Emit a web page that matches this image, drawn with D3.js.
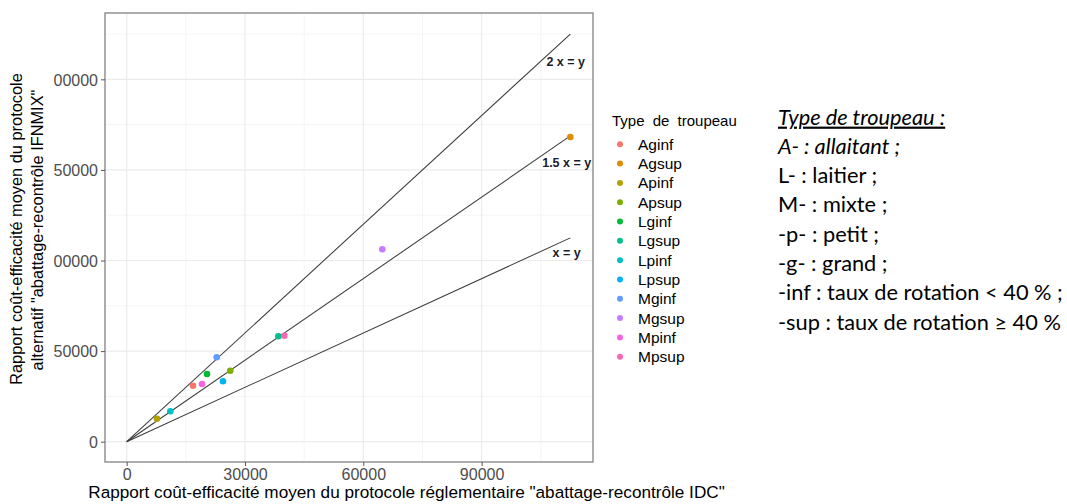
<!DOCTYPE html>
<html><head><meta charset="utf-8">
<script src="https://cdn.jsdelivr.net/npm/d3@7"></script>
<style>body{margin:0;background:#fff}svg{display:block}</style>
</head><body>
<svg id="c" width="1067" height="504"></svg>
<script>
const types = ["Aginf","Agsup","Apinf","Apsup","Lginf","Lgsup","Lpinf","Lpsup","Mginf","Mgsup","Mpinf","Mpsup"];
const idcCost = [16810,112500,7680,26270,20360,38450,11060,24420,22820,64820,19100,39970];
const ifnmixCost = [30900,168150,12690,39180,37360,58170,16780,33330,46580,106180,31840,58500];
const typeColors = ["#F8766D","#DE8C00","#B79F00","#7CAE00","#00BA38","#00C08B","#00BFC4","#00B4F0","#619CFF","#C77CFF","#F564E3","#FF64B0"];
const ratios = [1, 1.5, 2];
const ratioLabels = ["x = y", "1.5 x = y", "2 x = y"];
const xTicks = [0, 30000, 60000, 90000];
const yTicks = [0, 50000, 100000, 150000, 200000];
const xMinor = [15000, 45000, 75000, 105000];
const yMinor = [25000, 75000, 125000, 175000, 225000];
const notes = [
  {t:"Type de troupeau :", it:true, u:true},
  {t:"A- : allaitant ;", it:true},
  {t:"L- : laitier ;"},
  {t:"M- : mixte ;"},
  {t:"-p- : petit ;"},
  {t:"-g- : grand ;"},
  {t:"-inf : taux de rotation < 40 % ;"},
  {t:"-sup : taux de rotation \u2265 40 %"}
];

const svg = d3.select("#c");
const P = {l:105, r:593, t:13, b:462};
const x = d3.scaleLinear().domain([-5500, 118250]).range([P.l, P.r]);
const y = d3.scaleLinear().domain([-11200, 236600]).range([P.b, P.t]);
const font = "'Liberation Sans', Arial, sans-serif";

svg.append("rect").attr("width",1067).attr("height",504).attr("fill","#fff");

// grid
const g = svg.append("g");
g.selectAll(".xm").data(xMinor).join("line").attr("x1",d=>x(d)).attr("x2",d=>x(d)).attr("y1",P.t).attr("y2",P.b).attr("stroke","#F2F2F2").attr("stroke-width",0.8);
g.selectAll(".ym").data(yMinor).join("line").attr("y1",d=>y(d)).attr("y2",d=>y(d)).attr("x1",P.l).attr("x2",P.r).attr("stroke","#F2F2F2").attr("stroke-width",0.8);
g.selectAll(".xM").data(xTicks).join("line").attr("x1",d=>x(d)).attr("x2",d=>x(d)).attr("y1",P.t).attr("y2",P.b).attr("stroke","#EBEBEB").attr("stroke-width",1.2);
g.selectAll(".yM").data(yTicks).join("line").attr("y1",d=>y(d)).attr("y2",d=>y(d)).attr("x1",P.l).attr("x2",P.r).attr("stroke","#EBEBEB").attr("stroke-width",1.2);

// ratio lines
const xEnd = d3.max(idcCost);
const line = d3.line().x(d=>x(d[0])).y(d=>y(d[1]));
svg.selectAll(".rl").data(ratios).join("path")
  .attr("d", r => line([[0,0],[xEnd, r*xEnd]]))
  .attr("fill","none").attr("stroke","#3a3a3a").attr("stroke-width",1.05);

// ratio labels
const labelPos = [[566.7,252],[566.7,162.3],[565.7,61.7]];
svg.selectAll(".rlab").data(ratioLabels).join("text")
  .attr("x",(d,i)=>labelPos[i][0]).attr("y",(d,i)=>labelPos[i][1]+4.5)
  .attr("text-anchor","middle").attr("font-family",font).attr("font-weight","bold")
  .attr("font-size",12.5).attr("fill","#1b1b2a").text(d=>d);

// points
svg.selectAll(".pt").data(types).join("circle")
  .attr("cx",(d,i)=>x(idcCost[i])).attr("cy",(d,i)=>y(ifnmixCost[i]))
  .attr("r",3.3).attr("fill",(d,i)=>typeColors[i]);

// panel border
svg.append("rect").attr("x",P.l).attr("y",P.t).attr("width",P.r-P.l).attr("height",P.b-P.t)
  .attr("fill","none").attr("stroke","#8a8a8a").attr("stroke-width",1.4);

// axes
const xa = svg.append("g").attr("transform",`translate(0,${P.b})`)
  .call(d3.axisBottom(x).tickValues(xTicks).tickFormat(d3.format("d")).tickSize(4).tickPadding(3));
svg.append("clipPath").attr("id","yl").append("rect").attr("x",53.6-P.l).attr("y",0).attr("width",60).attr("height",504);
const ya = svg.append("g").attr("transform",`translate(${P.l},0)`).attr("clip-path","url(#yl)")
  .call(d3.axisLeft(y).tickValues(yTicks).tickFormat(d3.format("d")).tickSize(4).tickPadding(3));
[xa,ya].forEach(a=>{
  a.select(".domain").remove();
  a.selectAll(".tick line").attr("stroke","#555").attr("stroke-width",1);
  a.selectAll(".tick text").attr("fill","#4D4D4D").attr("font-family",font).attr("font-size",16);
});
ya.selectAll(".tick text").attr("dy","0.36em");

// axis titles
function fitText(sel, target){
  const w = sel.node().getComputedTextLength();
  const fs = parseFloat(sel.attr("font-size"));
  sel.attr("font-size", fs*target/w);
}
const xt = svg.append("text").attr("x",406.5).attr("y",498).attr("text-anchor","middle")
  .attr("font-family",font).attr("font-size",14.5).attr("fill","#000")
  .text('Rapport coût-efficacité moyen du protocole réglementaire "abattage-recontrôle IDC"');
fitText(xt, 637);
const yt1 = svg.append("text").attr("transform","translate(22,229) rotate(-90)").attr("text-anchor","middle")
  .attr("font-family",font).attr("font-size",14.5).attr("fill","#000")
  .text("Rapport coût-efficacité moyen du protocole");
fitText(yt1, 312);
svg.append("text").attr("transform","translate(43,230) rotate(-90)").attr("text-anchor","middle")
  .attr("font-family",font).attr("font-size",yt1.attr("font-size")).attr("fill","#000")
  .text('alternatif "abattage-recontrôle IFNMIX"');

// legend
svg.append("text").attr("x",612).attr("y",126).attr("font-family",font).attr("font-size",15)
  .attr("fill","#000").attr("word-spacing","4px").text("Type de troupeau");
const lg = svg.append("g");
const ly = d3.scalePoint().domain(types).range([144.3, 356.7]);
lg.selectAll("circle").data(types).join("circle").attr("cx",620).attr("cy",d=>ly(d)).attr("r",3)
  .attr("fill",(d,i)=>typeColors[i]);
lg.selectAll("text").data(types).join("text").attr("x",638).attr("y",d=>ly(d)).attr("dy","0.36em")
  .attr("font-family",font).attr("font-size",15.5).attr("fill","#000").text(d=>d);

// notes
const nfont = "Lato, 'Open Sans', sans-serif";
const ny = d3.scalePoint().domain(d3.range(notes.length)).range([117, 322]);
const nt = svg.selectAll(".note").data(notes).join("text")
  .attr("x",778).attr("y",(d,i)=>ny(i)).attr("dy","0.35em")
  .attr("font-family",nfont).attr("font-size",20).attr("fill","#000")
  .attr("font-style",d=>d.it?"italic":"normal")
  .attr("text-decoration",d=>d.u?"underline":"none")
  .text(d=>d.t);
const w6 = nt.filter((d,i)=>i===6).node().getComputedTextLength();
nt.attr("font-size", 20*285/w6);
</script>
</body></html>
